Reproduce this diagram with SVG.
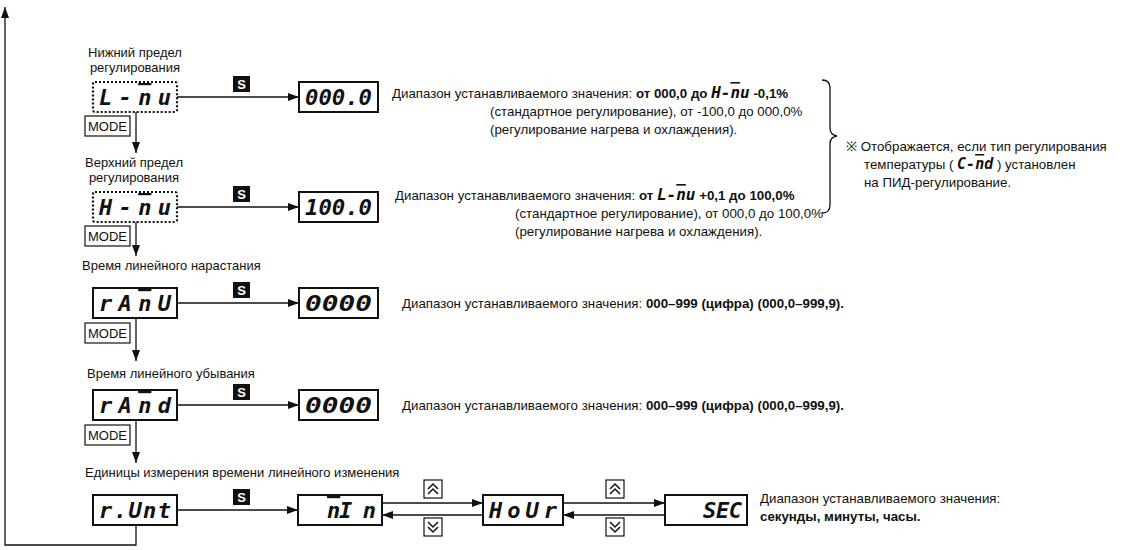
<svg xmlns="http://www.w3.org/2000/svg" width="1123" height="550" viewBox="0 0 1123 550">
<style>
.t{font-family:"Liberation Sans",Arial,sans-serif;font-size:13.3px;fill:#111}
.lbl{font-family:"Liberation Sans",Arial,sans-serif;font-size:13px;fill:#111}
.b{font-weight:bold}
.seg{font-family:"DejaVu Sans Mono",monospace;font-weight:bold;font-style:oblique;fill:#111}
.ov{text-decoration:overline}
.disp{fill:#fff;stroke:#111;stroke-width:2}
.dot{fill:#fff;stroke:#111;stroke-width:2.2;stroke-dasharray:2 2}
.mode{fill:#fff;stroke:#111;stroke-width:1.2}
.modet{font-family:"Liberation Sans",Arial,sans-serif;font-size:13px;fill:#111}
.sbox{fill:#111}
.st{font-family:"Liberation Sans",Arial,sans-serif;font-size:13px;font-weight:bold;fill:#fff}
.ln{fill:none;stroke:#111;stroke-width:1.3}
.ic{fill:#fff;stroke:#111;stroke-width:1.2}
.chev{fill:none;stroke:#111;stroke-width:1.5}
</style>
<defs>
<marker id="ah" markerWidth="11" markerHeight="8" refX="11" refY="4" orient="auto" markerUnits="userSpaceOnUse"><path d="M0,0L11,4L0,8z" fill="#111"/></marker>
<g id="sicon"><rect class="sbox" x="0" y="0" width="17" height="16"/><text class="st" x="8.5" y="13" text-anchor="middle">S</text></g>
<g id="modeicon"><rect class="mode" x="0" y="0" width="45" height="20"/><text class="modet" x="22.5" y="15" text-anchor="middle" textLength="39" lengthAdjust="spacingAndGlyphs">MODE</text></g>
<g id="up"><rect class="ic" x="0" y="0" width="18" height="18"/><path class="chev" d="M4,9L9,4L14,9M4,14L9,9L14,14"/></g>
<g id="down"><rect class="ic" x="0" y="0" width="18" height="18"/><path class="chev" d="M4,4L9,9L14,4M4,9L9,14L14,9"/></g>
</defs>

<g id="connectors">
<path class="ln" d="M136,525V545H5V7" marker-end="url(#ah)"/>
<path class="ln" d="M177,97H299" marker-end="url(#ah)"/>
<path class="ln" d="M177,207H299" marker-end="url(#ah)"/>
<path class="ln" d="M177,303H299" marker-end="url(#ah)"/>
<path class="ln" d="M177,405H299" marker-end="url(#ah)"/>
<path class="ln" d="M177,510H298" marker-end="url(#ah)"/>
<path class="ln" d="M136,112V153" marker-end="url(#ah)"/>
<path class="ln" d="M136,222V256" marker-end="url(#ah)"/>
<path class="ln" d="M136,318V361" marker-end="url(#ah)"/>
<path class="ln" d="M136,420V463" marker-end="url(#ah)"/>
<path class="ln" d="M382,503H483" marker-end="url(#ah)"/>
<path class="ln" d="M483,515H382" marker-end="url(#ah)"/>
<path class="ln" d="M563,503H665" marker-end="url(#ah)"/>
<path class="ln" d="M665,515H563" marker-end="url(#ah)"/>
<use href="#sicon" x="233" y="76"/>
<use href="#sicon" x="233" y="186"/>
<use href="#sicon" x="233" y="282"/>
<use href="#sicon" x="233" y="384"/>
<use href="#sicon" x="233" y="489"/>
<use href="#modeicon" x="85" y="116"/>
<use href="#modeicon" x="85" y="226"/>
<use href="#modeicon" x="85" y="323"/>
<use href="#modeicon" x="85" y="425"/>
<use href="#up" x="424" y="480"/>
<use href="#down" x="424" y="518"/>
<use href="#up" x="606" y="480"/>
<use href="#down" x="606" y="518"/>
</g>

<g id="node-lmu">
<text class="lbl" x="135" y="57" text-anchor="middle">Нижний предел</text>
<text class="lbl" x="135" y="72" text-anchor="middle">регулирования</text>
<rect class="dot" x="93" y="82" width="84" height="30" rx="2"/>
<text class="seg" x="99" y="105" font-size="22" textLength="72" lengthAdjust="spacing">L-<tspan class="ov">n</tspan>u</text>
</g>
<g id="val-lmu">
<rect class="disp" x="299" y="82" width="79" height="30"/>
<text class="seg" x="305" y="105" font-size="22" textLength="67" lengthAdjust="spacingAndGlyphs">000.0</text>
<text class="t" x="392" y="98">Диапазон устанавливаемого значения: <tspan class="b">от 000,0 до </tspan><tspan class="seg" font-size="16">H-<tspan class="ov">n</tspan>u</tspan><tspan class="b"> -0,1%</tspan></text>
<text class="t" x="490" y="116">(стандартное регулирование), от -100,0 до 000,0%</text>
<text class="t" x="490" y="134">(регулирование нагрева и охлаждения).</text>
</g>

<g id="node-hmu">
<text class="lbl" x="134" y="167" text-anchor="middle">Верхний предел</text>
<text class="lbl" x="134" y="182" text-anchor="middle">регулирования</text>
<rect class="dot" x="93" y="192" width="84" height="30" rx="2"/>
<text class="seg" x="99" y="215" font-size="22" textLength="72" lengthAdjust="spacing">H-<tspan class="ov">n</tspan>u</text>
</g>
<g id="val-hmu">
<rect class="disp" x="299" y="192" width="79" height="30"/>
<text class="seg" x="305" y="215" font-size="22" textLength="67" lengthAdjust="spacingAndGlyphs">100.0</text>
<text class="t" x="395" y="200">Диапазон устанавливаемого значения: <tspan class="b">от </tspan><tspan class="seg" font-size="16">L-<tspan class="ov">n</tspan>u</tspan><tspan class="b"> +0,1 до 100,0%</tspan></text>
<text class="t" x="515" y="218">(стандартное регулирование), от 000,0 до 100,0%</text>
<text class="t" x="515" y="236">(регулирование нагрева и охлаждения).</text>
</g>

<g id="note">
<path class="ln" d="M822,80Q830,80 830,88V128Q830,135 837,136Q830,137 830,144V205Q830,213 822,213"/>
<text class="t" x="846" y="151" font-size="14">※ Отображается, если тип регулирования</text>
<text class="t" x="864" y="169" font-size="14">температуры ( <tspan class="seg" font-size="15">C-<tspan class="ov">n</tspan>d</tspan> ) установлен</text>
<text class="t" x="864" y="187" font-size="14">на ПИД-регулирование.</text>
</g>

<g id="node-ramu">
<text class="lbl" x="82" y="270">Время линейного нарастания</text>
<rect class="disp" x="93" y="288" width="84" height="30"/>
<text class="seg" x="99" y="311" font-size="22" textLength="72" lengthAdjust="spacing">rA<tspan class="ov">n</tspan>U</text>
</g>
<g id="val-ramu">
<rect class="disp" x="299" y="288" width="79" height="30"/>
<text class="seg" x="305" y="311" font-size="22" textLength="67" lengthAdjust="spacingAndGlyphs">0000</text>
<text class="t" x="402" y="308">Диапазон устанавливаемого значения: <tspan class="b">000–999 (цифра) (000,0–999,9).</tspan></text>
</g>

<g id="node-ramd">
<text class="lbl" x="87" y="378">Время линейного убывания</text>
<rect class="disp" x="93" y="390" width="84" height="30"/>
<text class="seg" x="99" y="413" font-size="22" textLength="72" lengthAdjust="spacing">rA<tspan class="ov">n</tspan>d</text>
</g>
<g id="val-ramd">
<rect class="disp" x="299" y="390" width="79" height="30"/>
<text class="seg" x="305" y="413" font-size="22" textLength="67" lengthAdjust="spacingAndGlyphs">0000</text>
<text class="t" x="402" y="410">Диапазон устанавливаемого значения: <tspan class="b">000–999 (цифра) (000,0–999,9).</tspan></text>
</g>

<g id="node-runt">
<text class="lbl" x="85" y="477">Единицы измерения времени линейного изменения</text>
<rect class="disp" x="93" y="495" width="84" height="30"/>
<text class="seg" x="99" y="518" font-size="22" textLength="72" lengthAdjust="spacing">r.Unt</text>
</g>
<g id="val-min">
<rect class="disp" x="298" y="495" width="84" height="30"/>
<text class="seg" x="327" y="518" font-size="22" textLength="49" lengthAdjust="spacing"><tspan class="ov">n</tspan>I n</text>
</g>
<g id="val-hour">
<rect class="disp" x="483" y="495" width="80" height="30"/>
<text class="seg" x="489" y="518" font-size="22" textLength="68" lengthAdjust="spacing">HoUr</text>
</g>
<g id="val-sec">
<rect class="disp" x="665" y="495" width="82" height="30"/>
<text class="seg" x="703" y="518" font-size="22" textLength="39" lengthAdjust="spacing">SEC</text>
<text class="t" x="760" y="503">Диапазон устанавливаемого значения:</text>
<text class="t b" x="760" y="521" font-size="14.5">секунды, минуты, часы.</text>
</g>
</svg>
